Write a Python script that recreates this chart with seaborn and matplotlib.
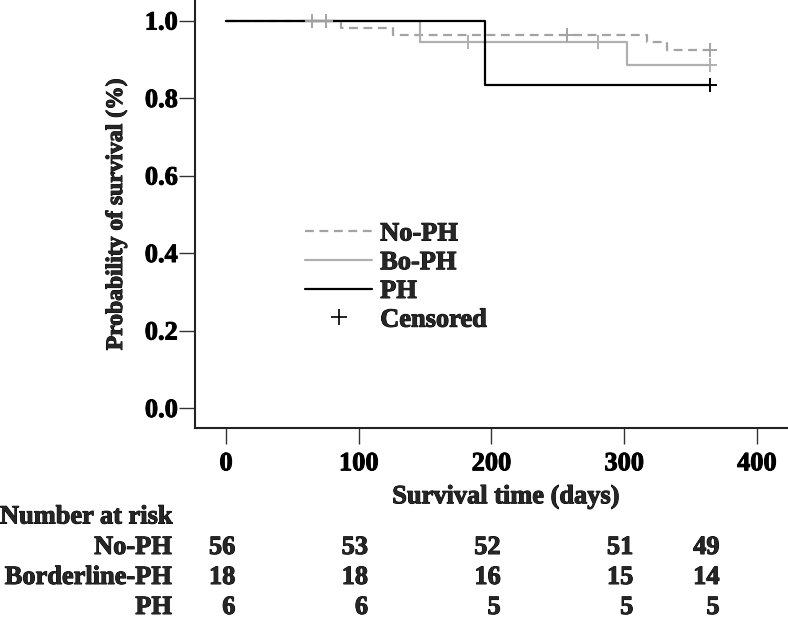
import numpy as np
import pandas as pd
import matplotlib
matplotlib.use("Agg")
import matplotlib.pyplot as plt
import matplotlib.transforms as mtransforms
import matplotlib.patheffects as pe
from matplotlib.lines import Line2D
import seaborn as sns

# --- Kaplan-Meier step values ---
noph_time = [0, 87, 126, 317, 332, 365]
noph_surv = [1.0, 0.981, 0.963, 0.944, 0.925, 0.925]
noph_cens_time = [65, 75, 257, 365]
noph_cens_surv = [1.0, 1.0, 0.963, 0.925]

boph_time = [0, 146, 302, 365]
boph_surv = [1.0, 0.944, 0.885, 0.885]
boph_cens_time = [182, 280, 365]
boph_cens_surv = [0.944, 0.944, 0.885]

ph_time = [0, 195, 365]
ph_surv = [1.0, 0.833, 0.833]
ph_cens_time = [365]
ph_cens_surv = [0.833]

# number at risk table
risk_times = [0, 100, 200, 300, 365]
risk_groups = ["No-PH", "Borderline-PH", "PH"]
risk_noph = [56, 53, 52, 51, 49]
risk_boph = [18, 18, 16, 15, 14]
risk_ph = [6, 6, 5, 5, 5]

legend_labels = ["No-PH", "Bo-PH", "PH", "Censored"]
x_ticks = [0, 100, 200, 300, 400]
y_ticks = [0.0, 0.2, 0.4, 0.6, 0.8, 1.0]

sns.set_theme(style="ticks")
plt.rcParams["font.family"] = ["Liberation Serif", "DejaVu Serif"]
plt.rcParams["font.weight"] = "bold"
FS = 19
heavy = [pe.withStroke(linewidth=0.7, foreground="black")]

col_noph = "#a3a3a3"
col_boph = "#b0b0b0"
col_ph = "#000000"

fig = plt.figure(figsize=(7.88, 6.21), dpi=100)
ax = fig.add_axes([195 / 788, 1 - 428 / 621, 1 - 195 / 788, 428 / 621])

curves = [
    (noph_time, noph_surv, noph_cens_time, noph_cens_surv, col_noph, (0, (4, 2.5))),
    (boph_time, boph_surv, boph_cens_time, boph_cens_surv, col_boph, "-"),
    (ph_time, ph_surv, ph_cens_time, ph_cens_surv, col_ph, "-"),
]
for t, s, ct, cs, c, ls in curves:
    sns.lineplot(x=t, y=s, ax=ax, color=c, linestyle=ls, linewidth=1.6,
                 drawstyle="steps-post", estimator=None, sort=False)
    sns.scatterplot(x=ct, y=cs, ax=ax, marker="+", s=90, color=c,
                    linewidth=1.4, zorder=3)

ax.set_xlim(-23.4, 423.5)
ax.set_ylim(-0.0516, 1.053)
ax.set_xticks(x_ticks)
ax.set_yticks(y_ticks)
ax.set_yticklabels([f"{v:.1f}" for v in y_ticks])
ax.tick_params(axis="both", direction="out", length=11.5, width=1.0,
               colors="#333333", labelcolor="black", labelsize=FS)
ax.tick_params(axis="x", pad=6)
ax.tick_params(axis="y", pad=1)
for lab in ax.get_xticklabels() + ax.get_yticklabels():
    lab.set_fontweight("bold")
    lab.set_path_effects(heavy)
sns.despine(ax=ax)
for sp in ["left", "bottom"]:
    ax.spines[sp].set_linewidth(1.5)
    ax.spines[sp].set_color("#222222")

ax.set_xlabel("Survival time (days)", fontsize=FS, fontweight="bold",
              path_effects=heavy)
ax.xaxis.set_label_coords((506 - 195) / 593, (428 - 497) / 428)
ax.xaxis.label.set_va("center")
ax.set_ylabel("Probability of survival (%)", fontsize=17, fontweight="bold",
              path_effects=heavy)
ax.yaxis.set_label_coords((127 - 195) / 593, 0.5)

handles = [
    Line2D([], [], color=col_noph, linestyle=(0, (4, 2.5)), linewidth=1.6),
    Line2D([], [], color=col_boph, linestyle="-", linewidth=1.6),
    Line2D([], [], color=col_ph, linestyle="-", linewidth=1.6),
    Line2D([], [], color="black", marker="+", linestyle="none",
           markersize=11, markeredgewidth=1.2),
]
leg = ax.legend(handles, legend_labels, loc="upper left",
                bbox_to_anchor=((305 - 195) / 593, 1 - 222 / 428),
                frameon=False, borderpad=0, borderaxespad=0, handlelength=2.55,
                handletextpad=0.3, labelspacing=0.2,
                prop={"size": FS, "weight": "bold"})
for txt in leg.get_texts():
    txt.set_path_effects(heavy)

# number at risk table
fig.text(0, 1 - 517 / 621, "Number at risk", fontsize=FS, fontweight="bold",
         ha="left", va="center", path_effects=heavy)
row_base = [554, 584, 614]
blend = mtransforms.blended_transform_factory(ax.transData, fig.transFigure)
for name, vals, y in zip(risk_groups, [risk_noph, risk_boph, risk_ph], row_base):
    fig.text(172 / 788, 1 - y / 621, name, fontsize=FS, fontweight="bold",
             ha="right", va="baseline", path_effects=heavy)
    for t, v in zip(risk_times, vals):
        ax.text(t + 7, 1 - y / 621, str(v), transform=blend, fontsize=FS,
                fontweight="bold", ha="right", va="baseline", clip_on=False,
                path_effects=heavy)

fig.savefig("out.png", dpi=100)
